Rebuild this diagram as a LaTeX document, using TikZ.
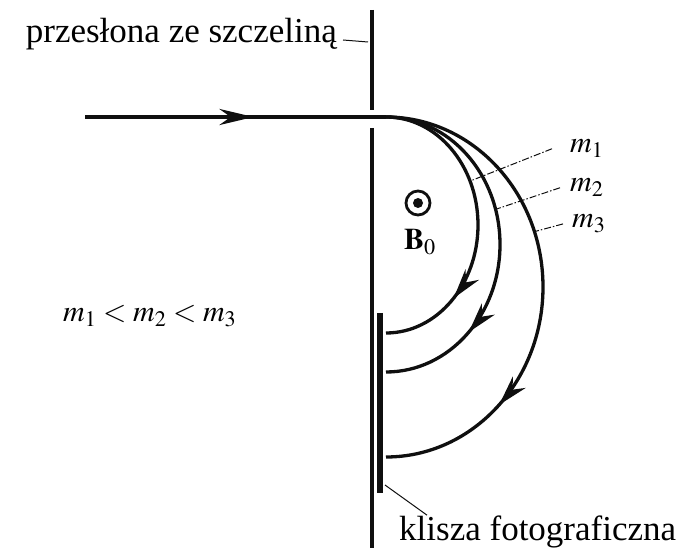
\documentclass[tikz,border=0pt]{standalone}
\usepackage{fix-cm}
\usepackage{mathptmx}
\usepackage{fontspec}
\setmainfont{Liberation Serif}
\usepackage{tikz}
\usetikzlibrary{arrows.meta, positioning, calc, decorations.markings}
\definecolor{myink}{RGB}{15,15,15}
\tikzset{
  wall/.style={line width=4.5pt, color=myink},
  film/.style={line width=6pt, color=myink},
  beam/.style={line width=4pt, color=myink, postaction={decorate},
    decoration={markings, mark=at position 0.56 with {\arrow{Stealth[length=34pt, width=16pt]}}}},
  track/.style={line width=3.3pt, color=myink, postaction={decorate},
    decoration={markings, mark=at position 0.75 with {\arrow{Stealth[length=30pt, width=17pt]}}}},
  leader/.style={line width=1pt, color=myink},
  mleader/.style={line width=1pt, color=myink, dash pattern=on 7pt off 2pt on 1.5pt off 2pt},
  lbl/.style={inner sep=0pt, font=\fontsize{35}{40}\selectfont},
  mlbl/.style={inner sep=0pt, font=\fontsize{30}{34}\selectfont}
}

\begin{document}
\begin{tikzpicture}[x=1pt, y=1pt]
  \useasboundingbox (0,0) rectangle (689,555);

  % Screen with the slit (gap where the beam passes)
  \coordinate (wtop) at (372,545);
  \coordinate (wgap1) at (372,445);
  \coordinate (wgap2) at (372,427);
  \coordinate (wbot) at (372,7);
  \draw[wall] (wtop) -- (wgap1);
  \draw[wall] (wgap2) -- (wbot);

  % Photographic plate along the screen
  \coordinate (ftop) at (379.5,242);
  \coordinate (fbot) at (379.5,62);
  \draw[film] (ftop) -- (fbot);

  % Incoming beam
  \coordinate (src) at (85,438);
  \coordinate (slit) at (386,438);
  \draw[beam] (src) -- (slit);

  % Tracks of the three masses (centres below the slit)
  \coordinate (c1) at (386,330);
  \coordinate (c2) at (386,310.5);
  \coordinate (c3) at (386,268);
  \draw[track] (slit) arc[start angle=90, end angle=-90, x radius=92pt, y radius=108pt];
  \draw[track] (slit) arc[start angle=90, end angle=-90, x radius=114pt, y radius=127.5pt];
  \draw[track] (slit) arc[start angle=90, end angle=-90, x radius=157pt, y radius=170pt];
  \coordinate (p1) at ($(c1)+(24:92pt and 108pt)$);
  \coordinate (p2) at ($(c2)+(16:114pt and 127.5pt)$);
  \coordinate (p3) at ($(c3)+(19:157pt and 170pt)$);

  % Mass labels
  \node[mlbl, anchor=base west] (m1) at (570,402) {$m_1$};
  \node[mlbl, anchor=base west] (m2) at (570,363) {$m_2$};
  \node[mlbl, anchor=base west] (m3) at (572,327) {$m_3$};
  \draw[mleader] ([xshift=-18pt]m1.west) -- (p1);
  \draw[mleader] ([xshift=-10pt]m2.west) -- (p2);
  \draw[mleader] ([xshift=-9pt]m3.west) -- (p3);

  % Magnetic field out of the page
  \node[circle, draw=myink, line width=2.8pt, minimum size=24pt, inner sep=0pt] (bfield) at (418,352) {};
  \fill[myink] (bfield.center) circle (5pt);
  \node[mlbl] (bname) at (420,313) {$\mathbf{B}_0$};

  \node[mlbl, anchor=base west] (order) at (63,233) {$m_1<m_2<m_3$};

  % Labels with leaders
  \node[lbl, anchor=base east] (screenlbl) at (337,512) {przesłona ze szczeliną};
  \coordinate (wlbl) at (368,513);
  \draw[leader] ($(screenlbl.base east)+(6,3)$) -- (wlbl);

  \node[lbl, anchor=base west] (filmlbl) at (399,15) {klisza fotograficzna};
  \coordinate (fpt) at (385,70);
  \draw[leader] (fpt) -- ([xshift=28pt]filmlbl.north west);
\end{tikzpicture}
\end{document}
